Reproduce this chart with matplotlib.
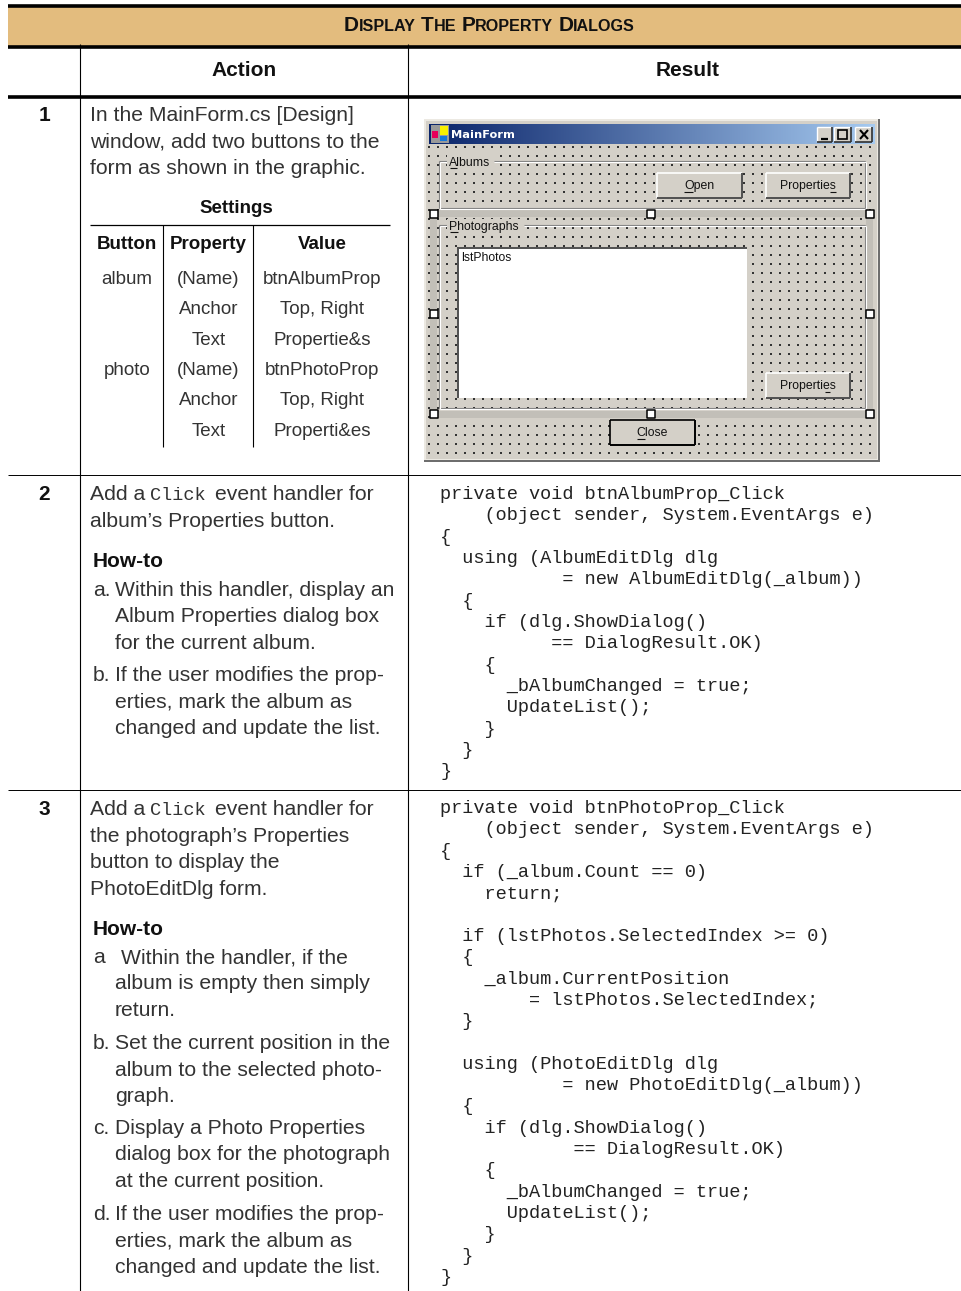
"""
Display the property dialogs - table page drawn in pixel coordinates
"""
import matplotlib
matplotlib.use('Agg')
import matplotlib.pyplot as plt
from matplotlib.patches import Rectangle
import numpy as np

W, H = 961, 1291
SANS = 'Liberation Sans'
MONO = 'Liberation Mono'
SMALL = 8.8
BODY = '#333333'
FACE = '#d4d0c8'

# text
TITLE_WORDS = ['DISPLAY', 'THE', 'PROPERTY', 'DIALOGS']
COLUMNS = ['Action', 'Result']
STEP_NUMBERS = ['1', '2', '3']

ROW1_INTRO = ['In the MainForm.cs [Design]', 'window, add two buttons to the', 'form as shown in the graphic.']
SETTINGS_HEAD = ['Button', 'Property', 'Value']
SETTINGS_BUTTON = ['album', '', '', 'photo', '', '']
SETTINGS_PROPERTY = ['(Name)', 'Anchor', 'Text', '(Name)', 'Anchor', 'Text']
SETTINGS_VALUE = ['btnAlbumProp', 'Top, Right', 'Propertie&s', 'btnPhotoProp', 'Top, Right', 'Properti&es']

ROW2_INTRO = "album’s Properties button."
ROW2_A = ['Within this handler, display an', 'Album Properties dialog box', 'for the current album.']
ROW2_B = ['If the user modifies the prop-', 'erties, mark the album as', 'changed and update the list.']

ROW3_INTRO = ["the photograph’s Properties", 'button to display the', 'PhotoEditDlg form.']
ROW3_A = ['Within the handler, if the', 'album is empty then simply', 'return.']
ROW3_B = ['Set the current position in the', 'album to the selected photo-', 'graph.']
ROW3_C = ['Display a Photo Properties', 'dialog box for the photograph', 'at the current position.']
ROW3_D = ['If the user modifies the prop-', 'erties, mark the album as', 'changed and update the list.']

CODE2 = [
    'private void btnAlbumProp_Click',
    '    (object sender, System.EventArgs e)',
    '{',
    '  using (AlbumEditDlg dlg',
    '           = new AlbumEditDlg(_album))',
    '  {',
    '    if (dlg.ShowDialog()',
    '          == DialogResult.OK)',
    '    {',
    '      _bAlbumChanged = true;',
    '      UpdateList();',
    '    }',
    '  }',
    '}',
]
CODE3 = [
    'private void btnPhotoProp_Click',
    '    (object sender, System.EventArgs e)',
    '{',
    '  if (_album.Count == 0)',
    '    return;',
    '',
    '  if (lstPhotos.SelectedIndex >= 0)',
    '  {',
    '    _album.CurrentPosition',
    '        = lstPhotos.SelectedIndex;',
    '  }',
    '',
    '  using (PhotoEditDlg dlg',
    '           = new PhotoEditDlg(_album))',
    '  {',
    '    if (dlg.ShowDialog()',
    '            == DialogResult.OK)',
    '    {',
    '      _bAlbumChanged = true;',
    '      UpdateList();',
    '    }',
    '  }',
    '}',
]

fig = plt.figure(figsize=(W / 100, H / 100), dpi=100)
ax = fig.add_axes([0, 0, 1, 1])


def rect(x0, y0, x1, y1, color, z=1):
    ax.add_patch(Rectangle((x0, y0), x1 - x0, y1 - y0, facecolor=color, edgecolor='none', zorder=z))


def line(x0, y0, x1, y1, color='black', lw=0.9, z=3):
    ax.plot([x0, x1], [y0, y1], color=color, lw=lw, zorder=z, solid_capstyle='butt')


def txt(x, y, s, size=15.2, weight='normal', family=SANS, color=BODY, ha='left', z=5):
    return ax.text(x, y, s, fontsize=size, fontweight=weight, family=family, color=color,
                   ha=ha, va='baseline', zorder=z)


def lines(x, y, items, step=26.5, **kw):
    for i, s in enumerate(items):
        txt(x, y + i * step, s, **kw)


def item(label, x_label, x_text, y, items):
    txt(x_label, y, label)
    lines(x_text, y, items)


def button(x0, y0, x1, y1, label, under=None, black=False):
    rect(x0, y0, x1, y1, FACE, z=6)
    dark = 'black' if black else '#505050'
    line(x0, y0, x1, y0, 'black' if black else 'white', 1.2, 7)
    line(x0, y0, x0, y1, 'black' if black else 'white', 1.2, 7)
    line(x0, y1, x1, y1, dark, 1.4, 7)
    line(x1, y0, x1, y1, dark, 1.4, 7)
    xc = (x0 + x1) / 2
    t = txt(xc, (y0 + y1) / 2 + 4, label, size=SMALL, color='#111111', ha='center', z=8)
    if under:
        rend = fig.canvas.get_renderer()
        bb = t.get_window_extent(rend)
        frac0, frac1 = under
        ux0 = bb.x0 + (bb.x1 - bb.x0) * frac0
        ux1 = bb.x0 + (bb.x1 - bb.x0) * frac1
        line(ux0, (y0 + y1) / 2 + 6, ux1, (y0 + y1) / 2 + 6, '#111111', 0.8, 8)


ax.set_xlim(0, W)
ax.set_ylim(H, 0)
ax.axis('off')

# table frame
rect(8, 6, 961, 46, '#e3bc7e', z=1)
line(8, 5.5, 961, 5.5, lw=2.6)
line(8, 46.5, 961, 46.5, lw=2.6)
line(8, 96.5, 961, 96.5, lw=2.6)
line(8, 475, 961, 475, lw=0.7)
line(8, 790, 961, 790, lw=0.7)
line(80, 44, 80, H, lw=0.8)
line(408, 44, 408, H, lw=0.8)

# small caps title
rend = fig.canvas.get_renderer()
x = 344
for word in TITLE_WORDS:
    for s, size in ((word[0], 15), (word[1:], 11.6)):
        t = txt(x, 31, s, size=size, weight='bold', color='#111111')
        x = t.get_window_extent(rend).x1
    x += 5

txt(244, 76, COLUMNS[0], size=15, weight='bold', color='#111111', ha='center')
txt(688, 76, COLUMNS[1], size=15, weight='bold', color='#111111', ha='center')
for s, y in zip(STEP_NUMBERS, (121, 500, 815)):
    txt(44, y, s, size=15, weight='bold', color='#111111', ha='center')

# row 1
lines(90, 121, ROW1_INTRO)
txt(236, 213, 'Settings', size=13.5, weight='bold', color='#111111', ha='center')
line(90, 224.5, 390, 224.5, lw=0.9)
line(163, 225, 163, 447, lw=0.8)
line(253, 225, 253, 447, lw=0.8)
for s, xc in zip(SETTINGS_HEAD, (127, 208, 322)):
    txt(xc, 249, s, size=13.5, weight='bold', color='#111111', ha='center')
for col, xc in zip((SETTINGS_BUTTON, SETTINGS_PROPERTY, SETTINGS_VALUE), (127, 208.5, 322)):
    for i, s in enumerate(col):
        txt(xc, 284 + i * 30.3, s, size=13.5, ha='center')

# row 2
txt(90, 500, 'Add a')
txt(150, 500, 'Click', size=13.4, family=MONO)
txt(215, 500, 'event handler for')
txt(90, 527, ROW2_INTRO)
txt(93, 567, 'How-to', size=15, weight='bold', color='#111111')
item('a.', 93, 115, 596, ROW2_A)
item('b.', 93, 115, 681, ROW2_B)

# row 3
txt(90, 815, 'Add a')
txt(150, 815, 'Click', size=13.4, family=MONO)
txt(215, 815, 'event handler for')
lines(90, 842, ROW3_INTRO)
txt(93, 935, 'How-to', size=15, weight='bold', color='#111111')
item('a', 93, 121, 963, ROW3_A[:1])
lines(115, 989, ROW3_A[1:])
item('b.', 93, 115, 1049, ROW3_B)
item('c.', 93, 115, 1134, ROW3_C)
item('d.', 93, 115, 1220, ROW3_D)

# code
lines(440, 499, CODE2, step=21.32, size=13.4, family=MONO, color='#222222')
lines(440, 813, CODE3, step=21.32, size=13.4, family=MONO, color='#222222')

# form window
rect(424, 119, 880, 462, '#6e6e6e', z=1)
rect(424, 119, 878, 460, '#ece9e2', z=1.1)
rect(426, 121, 877, 459, FACE, z=1.2)
gx, gy = np.meshgrid(np.arange(429, 872, 9), np.arange(147, 458, 9))
ax.scatter(gx.ravel(), gy.ravel(), s=0.7, color='#333333', marker='s', linewidths=0, zorder=2)

# selection bands
for x0, y0, x1, y1 in ((430, 210, 873, 217), (430, 411, 873, 418), (430, 210, 437, 418), (866, 210, 873, 418)):
    rect(x0, y0, x1, y1, '#c2bfb8', z=2.5)

# group boxes
for x0, y0, x1, y1, label, lw_end in ((438.5, 161, 865, 208, 'Albums', 494), (438.5, 225, 865, 408, 'Photographs', 524)):
    for c, d in (('#808080', 0), ('white', 1)):
        line(x0 + d, y0 + d, 447, y0 + d, c, 0.8, 3)
        line(lw_end, y0 + d, x1 + d, y0 + d, c, 0.8, 3)
        line(x0 + d, y0 + d, x0 + d, y1 + d, c, 0.8, 3)
        line(x1 + d, y0 + d, x1 + d, y1 + d, c, 0.8, 3)
        line(x0 + d, y1 + d, x1 + d, y1 + d, c, 0.8, 3)
    rect(447, y0 - 6, lw_end, y0 + 5, FACE, z=3.5)
    txt(449, y0 + 5, label, size=SMALL, color='#111111')
line(450, 168, 457, 168, '#111111', 0.8, 6)
line(450, 232, 458, 232, '#111111', 0.8, 6)

# title bar
grad = np.linspace(0, 1, 256).reshape(1, -1)
cmap = matplotlib.colors.LinearSegmentedColormap.from_list('bar', ['#0a246a', '#a6caf0'])
ax.imshow(grad, extent=(429, 875, 144, 124), cmap=cmap, aspect='auto', zorder=4)
ax.set_xlim(0, W)
ax.set_ylim(H, 0)
txt(451, 138.5, 'MainForm', size=8.2, weight='bold', color='white', family='DejaVu Sans')
rect(431, 125, 449, 143, '#9a9a9a', z=5)
rect(440, 126, 448, 135, '#f8f000', z=6)
rect(432, 131, 438, 138, '#e8005a', z=6)
rect(440, 136, 447, 141, '#1878d8', z=6)
for x0, x1 in ((817, 832), (834, 851), (855, 872)):
    rect(x0, 127, x1, 142, FACE, z=6)
    line(x0, 127, x1, 127, 'white', 1, 7)
    line(x0, 127, x0, 142, 'white', 1, 7)
    line(x0, 142, x1, 142, '#303030', 1.2, 7)
    line(x1, 127, x1, 142, '#303030', 1.2, 7)
line(821, 139, 828, 139, 'black', 1.6, 8)
ax.add_patch(Rectangle((838, 130), 9, 9, facecolor='none', edgecolor='black', lw=1.2, zorder=8))
line(860, 130, 868, 139, 'black', 1.5, 8)
line(868, 130, 860, 139, 'black', 1.5, 8)

# controls
button(657, 173, 742, 198, 'Open', under=(0, 0.3))
button(766, 173, 850, 198, 'Properties', under=(0.9, 1.0))
button(766, 373, 850, 398, 'Properties', under=(0.8, 0.9))
button(610, 420, 695, 445, 'Close', under=(0, 0.25), black=True)

# list box
rect(457, 247, 747, 398, 'white', z=6)
line(457, 247.5, 747, 247.5, '#505050', 1.4, 7)
line(457.5, 247, 457.5, 398, '#505050', 1.4, 7)
txt(461, 261, 'lstPhotos', size=SMALL, color='#111111', z=8)

# sizing handles
hx = [434, 651, 870, 434, 870, 434, 651, 870]
hy = [214, 214, 214, 314, 314, 414, 414, 414]
ax.scatter(hx, hy, s=26, marker='s', facecolor='white', edgecolor='black', linewidths=1.1, zorder=9)

plt.savefig('out.png', dpi=100)
plt.close()
